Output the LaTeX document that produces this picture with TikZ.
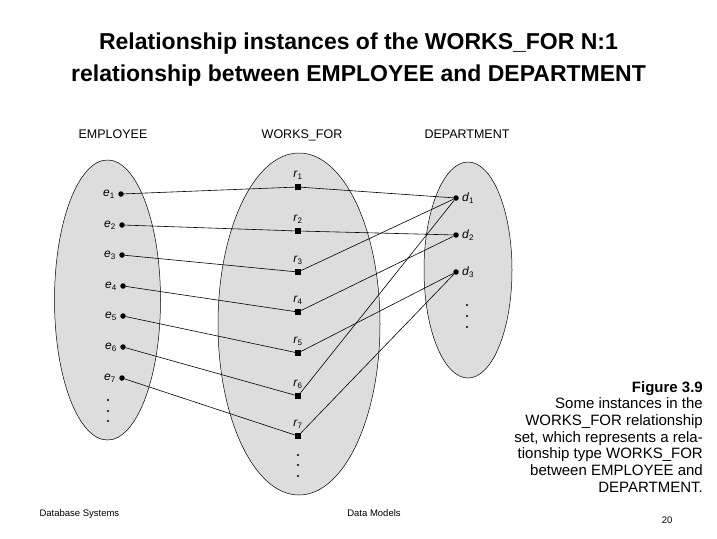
\documentclass[tikz,border=0pt]{standalone}
\usepackage{fontspec}
\setmainfont{Liberation Sans}
\usetikzlibrary{positioning}
\definecolor{setgray}{RGB}{221,221,221}
\newcommand{\inst}[2]{\textit{#1}\textsubscript{#2}}

\begin{document}
\begin{tikzpicture}[x=1pt, y=-1pt,
    edot/.style={circle, fill=black, inner sep=0pt, minimum size=5.5pt},
    rbox/.style={rectangle, fill=black, inner sep=0pt, minimum size=6pt},
    vdot/.style={circle, fill=black, inner sep=0pt, minimum size=2.4pt},
    settitle/.style={font=\fontsize{12.5}{14}\selectfont, anchor=base},
    inst/.style={font=\fontsize{12}{14}\selectfont, inner sep=1pt},
    link/.style={line width=0.6pt},
    footer/.style={font=\fontsize{9.5}{11}\selectfont}]
    \useasboundingbox (0,0) rectangle (717,538);

    % Title
    \node[font=\bfseries\fontsize{23}{32}\selectfont, align=center] (title) at (358.5,60)
        {Relationship instances of the WORKS\_FOR N:1\\relationship between EMPLOYEE and DEPARTMENT};

    % Entity and relationship sets
    \draw[fill=setgray, line width=0.5pt] (107.5,300) ellipse [x radius=53, y radius=140];
    \draw[fill=setgray, line width=0.5pt] (299,324) ellipse [x radius=81, y radius=171];
    \draw[fill=setgray, line width=0.5pt] (468,270) ellipse [x radius=44, y radius=108];

    \node[settitle] (emp) at (113,138) {EMPLOYEE};
    \node[settitle] (wf) at (302,138) {WORKS\_FOR};
    \node[settitle] (dept) at (467,138) {DEPARTMENT};

    % EMPLOYEE instances
    \node[edot, label={[inst, label distance=2pt]left:\inst{e}{1}}] (e1) at (121,194) {};
    \node[edot, label={[inst, label distance=2pt]left:\inst{e}{2}}] (e2) at (122,225) {};
    \node[edot, label={[inst, label distance=2pt]left:\inst{e}{3}}] (e3) at (122,255) {};
    \node[edot, label={[inst, label distance=2pt]left:\inst{e}{4}}] (e4) at (123,286) {};
    \node[edot, label={[inst, label distance=2pt]left:\inst{e}{5}}] (e5) at (123,316) {};
    \node[edot, label={[inst, label distance=2pt]left:\inst{e}{6}}] (e6) at (123,347) {};
    \node[edot, label={[inst, label distance=2pt]left:\inst{e}{7}}] (e7) at (122,378) {};
    \node[vdot] (ea) at (108,400) {};
    \node[vdot] (eb) at (108,411) {};
    \node[vdot] (ec) at (108,421) {};

    % WORKS_FOR instances
    \node[rbox, label={[inst, label distance=3pt]above:\inst{r}{1}}] (r1) at (298,187) {};
    \node[rbox, label={[inst, label distance=3pt]above:\inst{r}{2}}] (r2) at (298,231) {};
    \node[rbox, label={[inst, label distance=3pt]above:\inst{r}{3}}] (r3) at (298,272) {};
    \node[rbox, label={[inst, label distance=3pt]above:\inst{r}{4}}] (r4) at (298,312) {};
    \node[rbox, label={[inst, label distance=3pt]above:\inst{r}{5}}] (r5) at (298,353) {};
    \node[rbox, label={[inst, label distance=3pt]above:\inst{r}{6}}] (r6) at (298,396) {};
    \node[rbox, label={[inst, label distance=3pt]above:\inst{r}{7}}] (r7) at (298,436) {};
    \node[vdot] (ra) at (298,455) {};
    \node[vdot] (rb) at (298,465) {};
    \node[vdot] (rc) at (298,476) {};

    % DEPARTMENT instances
    \node[edot, label={[inst, label distance=2pt]right:\inst{d}{1}}] (d1) at (456,198) {};
    \node[edot, label={[inst, label distance=2pt]right:\inst{d}{2}}] (d2) at (456,235) {};
    \node[edot, label={[inst, label distance=2pt]right:\inst{d}{3}}] (d3) at (456,272) {};
    \node[vdot] (da) at (467,305) {};
    \node[vdot] (db) at (467,316) {};
    \node[vdot] (dc) at (467,327) {};

    % Links
    \draw[link] (e1) -- (r1) -- (d1);
    \draw[link] (e2) -- (r2) -- (d2);
    \draw[link] (e3) -- (r3) -- (d1);
    \draw[link] (e4) -- (r4) -- (d2);
    \draw[link] (e5) -- (r5) -- (d3);
    \draw[link] (e6) -- (r6) -- (d1);
    \draw[link] (e7) -- (r7) -- (d3);

    % Caption
    \node[anchor=north east, align=right, inner sep=0pt, font=\fontsize{15}{16.7}\selectfont] (caption) at (703,381)
        {\textbf{Figure 3.9}\\Some instances in the\\WORKS\_FOR relationship\\set, which represents a rela-\\tionship type WORKS\_FOR\\between EMPLOYEE and\\DEPARTMENT.};

    % Footer
    \node[footer, anchor=west] (course) at (36,514) {Database Systems};
    \node[footer] (chapter) at (374,513) {Data Models};
    \node[footer, anchor=east] (page) at (676,520) {20};
\end{tikzpicture}
\end{document}
